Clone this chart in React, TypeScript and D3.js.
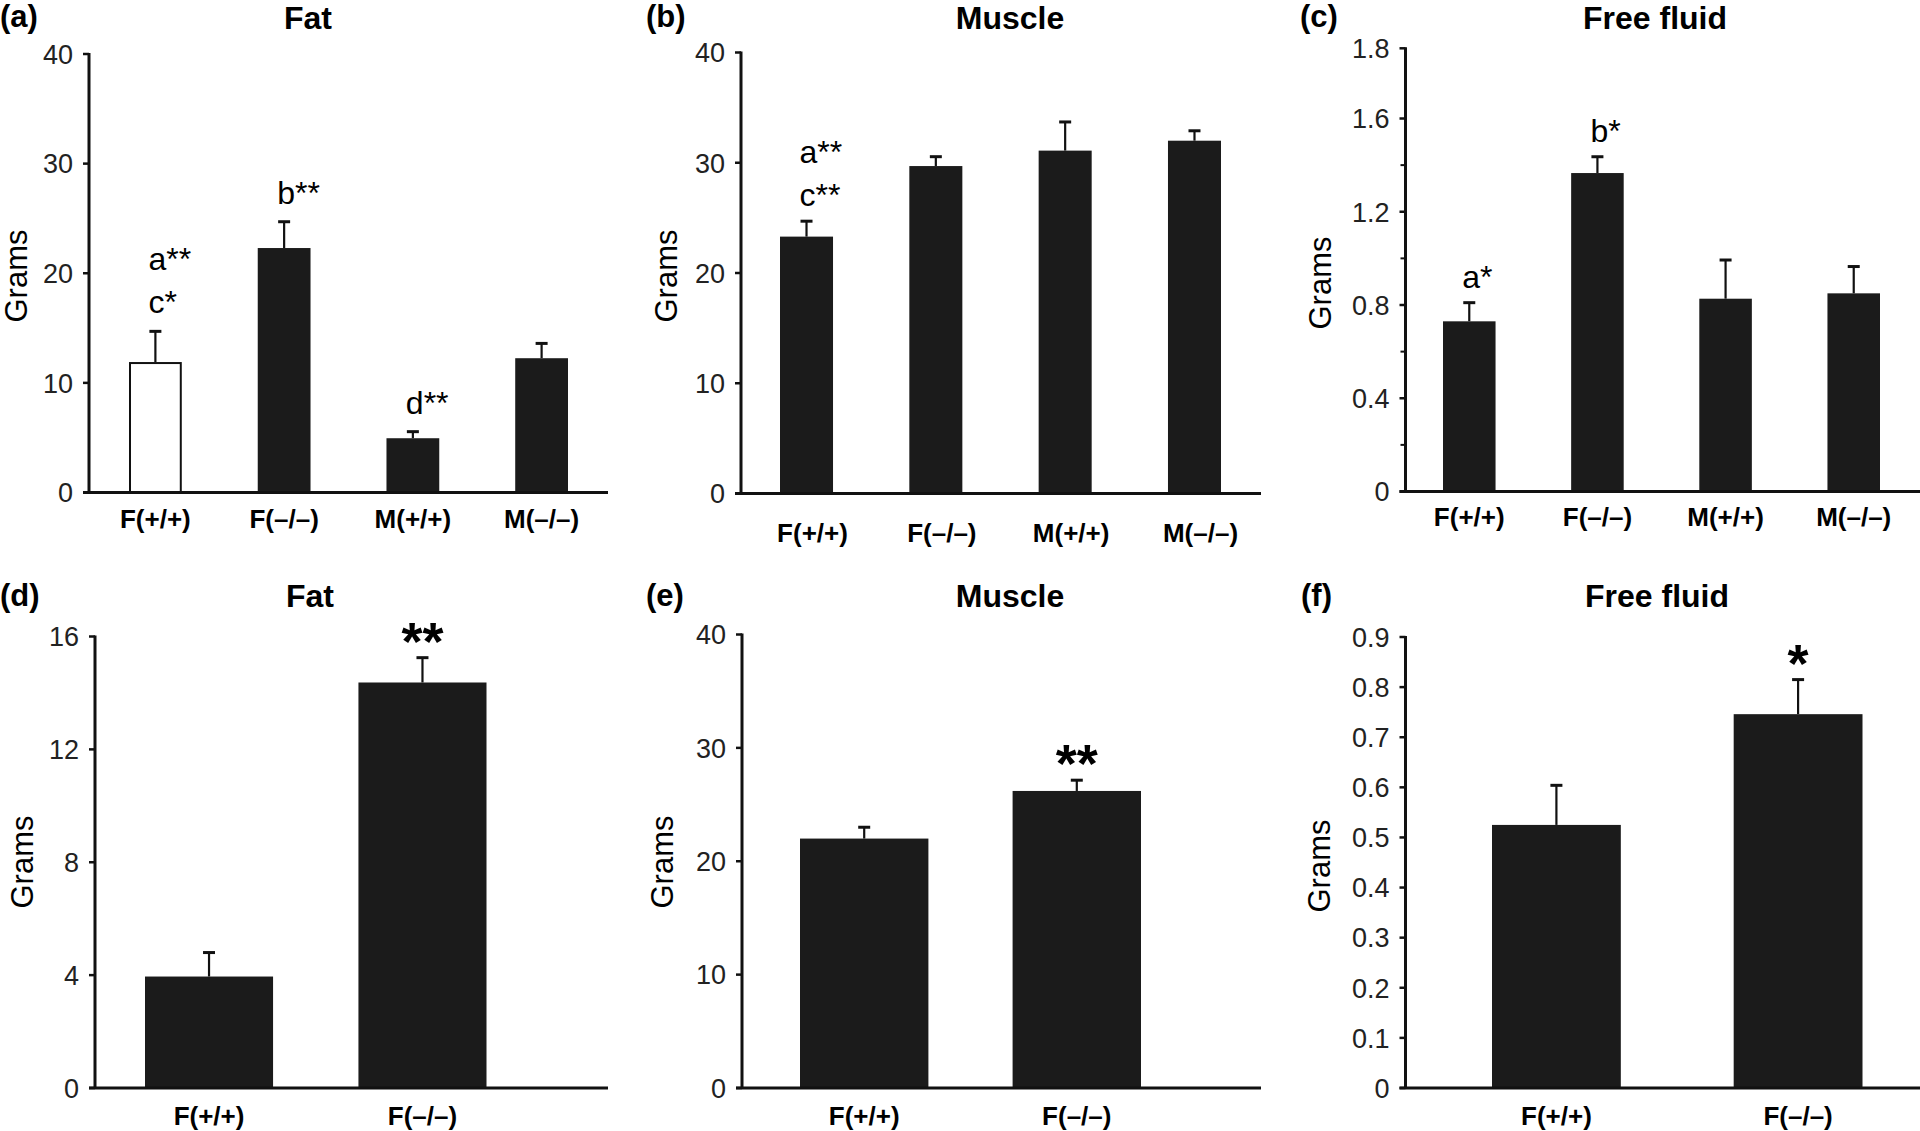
import React from "react";
import * as d3 from "d3";

// ---------- data ----------
const groups4 = ["F(+/+)", "F(–/–)", "M(+/+)", "M(–/–)"];
const groups2 = ["F(+/+)", "F(–/–)"];

const fatMean4 = [11.9, 22.3, 4.95, 12.25];
const fatSem4 = [2.8, 2.4, 0.6, 1.35];
const muscleMean4 = [23.3, 29.7, 31.1, 32.0];
const muscleSem4 = [1.4, 0.85, 2.6, 0.9];
const fluidMean4 = [0.73, 1.366, 0.827, 0.85];
const fluidSem4 = [0.08, 0.07, 0.166, 0.115];

const fatMean2 = [3.95, 14.37];
const fatSem2 = [0.85, 0.88];
const muscleMean2 = [22.0, 26.2];
const muscleSem2 = [1.0, 0.95];
const fluidMean2 = [0.525, 0.746];
const fluidSem2 = [0.079, 0.069];

const ticks40 = [0, 10, 20, 30, 40];
const ticksFluid4 = [0, 0.4, 0.8, 1.2, 1.6];
const ticksFluid4Labels = ["0", "0.4", "0.8", "1.2", "1.6"];
const minorFluid4 = [0.2, 0.6, 1.0, 1.4];
const fluid4TopLabel = "1.8";
const ticks16 = [0, 4, 8, 12, 16];
const ticksFluid2 = [0, 0.1, 0.2, 0.3, 0.4, 0.5, 0.6, 0.7, 0.8, 0.9];
const ticksFluid2Labels = ["0", "0.1", "0.2", "0.3", "0.4", "0.5", "0.6", "0.7", "0.8", "0.9"];

const annotFat4 = [["a**", "c*"], ["b**"], ["d**"], []];
const annotMuscle4 = [["a**", "c**"], [], [], []];
const annotFluid4 = [["a*"], ["b*"], [], []];
const starsFat2 = ["", "**"];
const starsMuscle2 = ["", "**"];
const starsFluid2 = ["", "*"];

// ---------- layout ----------
const FONT = "'Liberation Sans', Arial, Helvetica, sans-serif";
const BAR = "#1b1b1b";

type PanelCfg = {
  tag: string; title: string; groups: string[]; mean: number[]; sem: number[];
  ticks: number[]; tickLabels?: string[]; minor?: number[]; topLabel?: string;
  dMax: number; y0: number; yMax: number; axisTop: number;
  axisX: number; xEnd: number; bandStart: number; bandEnd: number; padInner: number;
  labelY: number; labelDx: number; tagX: number; titleX: number; titleY: number;
  gramsX: number; gramsY: number; annotGap: number;
  annot?: string[][]; stars?: string[]; hollowFirst?: boolean;
};

const panels: PanelCfg[] = [
  { tag: "(a)", title: "Fat", groups: groups4, mean: fatMean4, sem: fatSem4, ticks: ticks40,
    dMax: 40, y0: 492.5, yMax: 54, axisTop: 54, axisX: 89, xEnd: 608, bandStart: 129, bandEnd: 568,
    padInner: 0.59, labelY: 528, labelDx: 0, tagX: 0, titleX: 308, titleY: 28.5, gramsX: 16, gramsY: 276,
    annotGap: 18, annot: annotFat4, hollowFirst: true },
  { tag: "(b)", title: "Muscle", groups: groups4, mean: muscleMean4, sem: muscleSem4, ticks: ticks40,
    dMax: 40, y0: 493.5, yMax: 52.5, axisTop: 52.5, axisX: 741, xEnd: 1261, bandStart: 780, bandEnd: 1221,
    padInner: 0.59, labelY: 542, labelDx: 6, tagX: 646, titleX: 1010, titleY: 28.5, gramsX: 666, gramsY: 276,
    annotGap: 15, annot: annotMuscle4 },
  { tag: "(c)", title: "Free fluid", groups: groups4, mean: fluidMean4, sem: fluidSem4, ticks: ticksFluid4,
    tickLabels: ticksFluid4Labels, minor: minorFluid4, topLabel: fluid4TopLabel,
    dMax: 1.6, y0: 491.5, yMax: 118.5, axisTop: 48.3, axisX: 1405.5, xEnd: 1920, bandStart: 1443, bandEnd: 1880,
    padInner: 0.59, labelY: 526, labelDx: 0, tagX: 1300, titleX: 1655, titleY: 28.5, gramsX: 1320, gramsY: 283,
    annotGap: 15, annot: annotFluid4 },
  { tag: "(d)", title: "Fat", groups: groups2, mean: fatMean2, sem: fatSem2, ticks: ticks16,
    dMax: 16, y0: 1088, yMax: 636.5, axisTop: 636.5, axisX: 95, xEnd: 608, bandStart: 145, bandEnd: 486.5,
    padInner: 0.4, labelY: 1125, labelDx: 0, tagX: 0, titleX: 310, titleY: 607, gramsX: 22, gramsY: 862,
    annotGap: 15, stars: starsFat2 },
  { tag: "(e)", title: "Muscle", groups: groups2, mean: muscleMean2, sem: muscleSem2, ticks: ticks40,
    dMax: 40, y0: 1088, yMax: 634.5, axisTop: 634.5, axisX: 742, xEnd: 1261, bandStart: 800, bandEnd: 1141,
    padInner: 0.396, labelY: 1125, labelDx: 0, tagX: 646, titleX: 1010, titleY: 607, gramsX: 662, gramsY: 862,
    annotGap: 15, stars: starsMuscle2 },
  { tag: "(f)", title: "Free fluid", groups: groups2, mean: fluidMean2, sem: fluidSem2, ticks: ticksFluid2,
    tickLabels: ticksFluid2Labels,
    dMax: 0.9, y0: 1088, yMax: 637, axisTop: 637, axisX: 1405.5, xEnd: 1920, bandStart: 1492, bandEnd: 1862.5,
    padInner: 0.467, labelY: 1125, labelDx: 0, tagX: 1301, titleX: 1657, titleY: 607, gramsX: 1319, gramsY: 866,
    annotGap: 15, stars: starsFluid2 },
];

function Panel({ p }: { p: PanelCfg }) {
  const x = d3.scaleBand<string>().domain(p.groups).range([p.bandStart, p.bandEnd])
    .paddingInner(p.padInner).paddingOuter(0);
  const y = d3.scaleLinear().domain([0, p.dMax]).range([p.y0, p.yMax]);
  const bw = x.bandwidth();
  const tickFs = 27;
  const gap = 16;
  const tagY = p.titleY < 100 ? p.titleY - 1.5 : p.titleY - 1;
  return (
    <g>
      <text x={p.tagX} y={tagY} fontFamily={FONT} fontWeight="bold" fontSize={31}>{p.tag}</text>
      <text x={p.titleX} y={p.titleY} fontFamily={FONT} fontWeight="bold" fontSize={32} textAnchor="middle">{p.title}</text>
      <text transform={`translate(${p.gramsX + 11},${p.gramsY}) rotate(-90)`} fontFamily={FONT}
        fontSize={31} textAnchor="middle">Grams</text>
      {/* bars */}
      {p.groups.map((g, i) => {
        const cx = (x(g) as number) + bw / 2;
        const top = y(p.mean[i]);
        const errTop = y(p.mean[i] + p.sem[i]);
        const hollow = p.hollowFirst && i === 0;
        return (
          <g key={g}>
            <line x1={cx} x2={cx} y1={top} y2={errTop} stroke="#111" strokeWidth={2.2} />
            <line x1={cx - 6} x2={cx + 6} y1={errTop} y2={errTop} stroke="#111" strokeWidth={3} />
            <rect x={x(g) as number + (hollow ? 1 : 0)} y={top + (hollow ? 1 : 0)}
              width={bw - (hollow ? 2 : 0)} height={p.y0 - top - (hollow ? 1 : 0)}
              fill={hollow ? "#fff" : BAR} stroke={hollow ? "#111" : "none"} strokeWidth={2} />
            {p.annot && p.annot[i].map((t, k) => (
              <text key={k} x={cx - 7} y={errTop - p.annotGap - (p.annot![i].length - 1 - k) * 43}
                fontFamily={FONT} fontSize={32}>{t}</text>
            ))}
            {p.stars && p.stars[i] && (
              <text x={cx} y={errTop + 2} fontFamily={FONT} fontWeight="bold" fontSize={54}
                textAnchor="middle">{p.stars[i]}</text>
            )}
            <text x={cx + p.labelDx} y={p.labelY} fontFamily={FONT} fontWeight="bold" fontSize={26}
              textAnchor="middle">{g}</text>
          </g>
        );
      })}
      {/* y axis */}
      <line x1={p.axisX} x2={p.axisX} y1={p.axisTop - 1} y2={p.y0} stroke="#111" strokeWidth={3} />
      {p.ticks.map((t, i) => (
        <g key={t}>
          <line x1={p.axisX - 6} x2={p.axisX} y1={y(t)} y2={y(t)} stroke="#111" strokeWidth={2.5} />
          <text x={p.axisX - gap} y={y(t) + 9.8} fontFamily={FONT} fontSize={tickFs} textAnchor="end" fill="#222">
            {p.tickLabels ? p.tickLabels[i] : String(t)}
          </text>
        </g>
      ))}
      {p.minor && p.minor.map((t) => (
        <line key={t} x1={p.axisX - 5} x2={p.axisX} y1={y(t)} y2={y(t)} stroke="#111" strokeWidth={2} />
      ))}
      {p.topLabel && (
        <g>
          <line x1={p.axisX - 6} x2={p.axisX} y1={p.axisTop} y2={p.axisTop} stroke="#111" strokeWidth={2.5} />
          <text x={p.axisX - gap} y={p.axisTop + 9.8} fontFamily={FONT} fontSize={tickFs} textAnchor="end" fill="#222">
            {p.topLabel}
          </text>
        </g>
      )}
      {/* x axis */}
      <line x1={p.axisX - 6} x2={p.xEnd} y1={p.y0} y2={p.y0} stroke="#111" strokeWidth={3} />
    </g>
  );
}

export default function App() {
  return (
    <svg width={1920} height={1131} viewBox="0 0 1920 1131"
      style={{ position: "absolute", left: 0, top: 0, background: "#fff" }}>
      <rect x={0} y={0} width={1920} height={1131} fill="#fff" />
      {panels.map((p) => <Panel key={p.tag} p={p} />)}
    </svg>
  );
}
